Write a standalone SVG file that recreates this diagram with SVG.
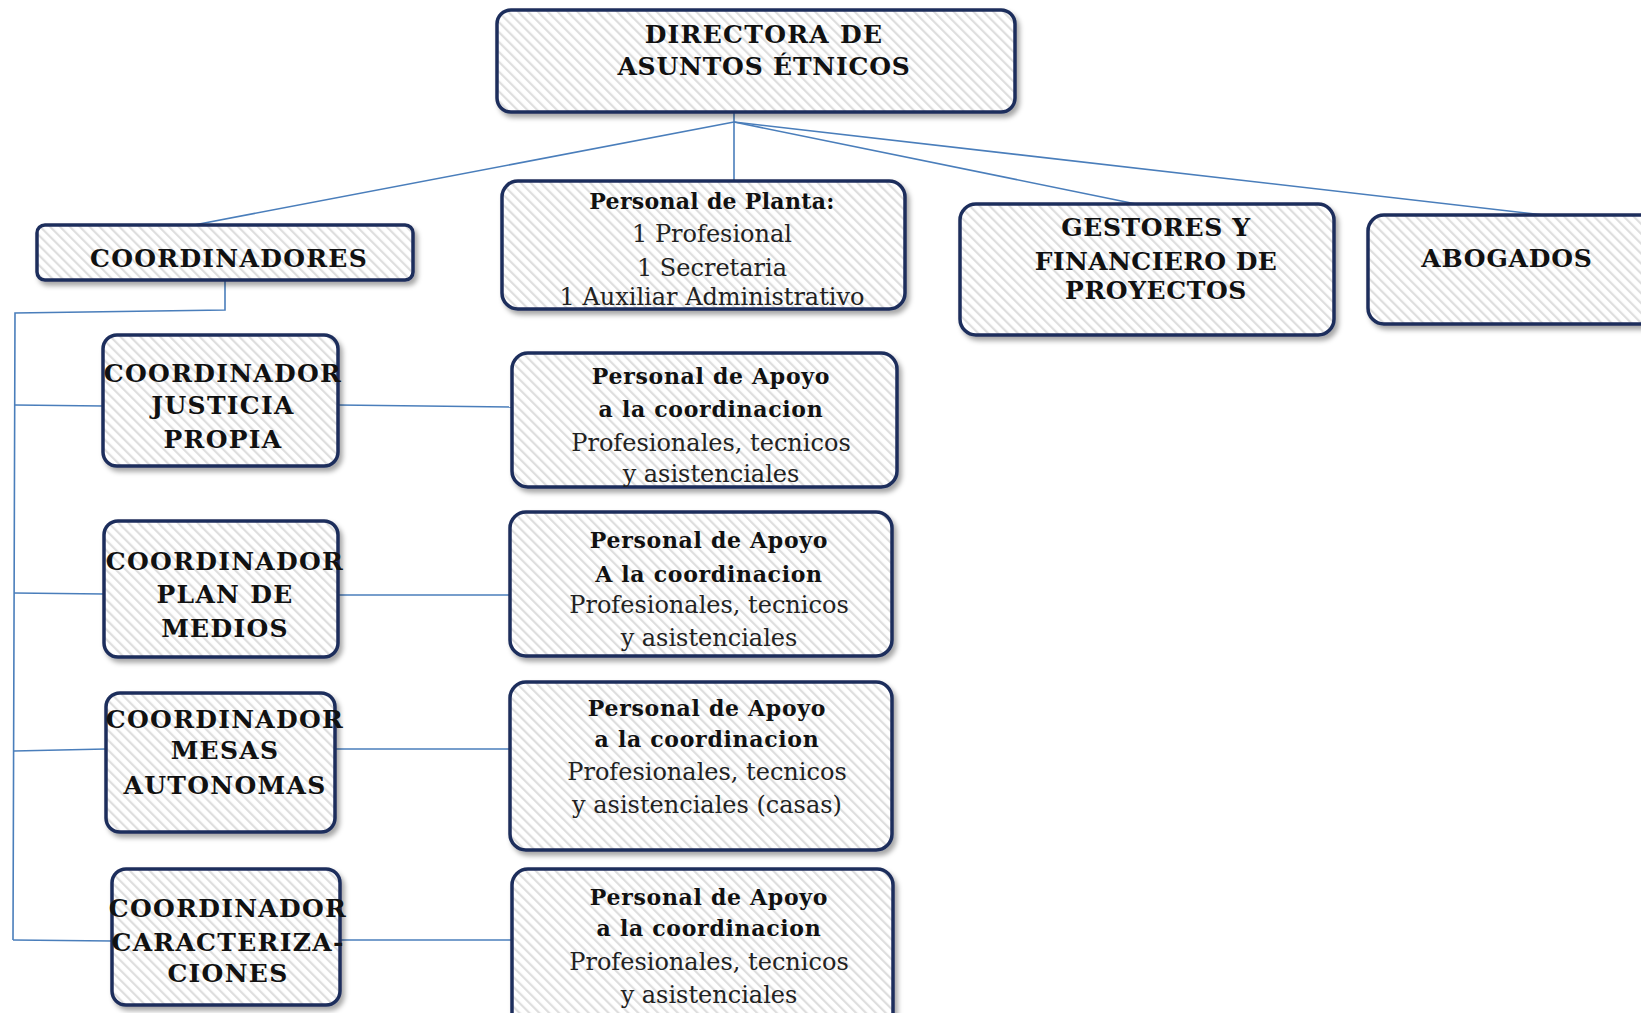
<svg xmlns="http://www.w3.org/2000/svg" width="1641" height="1013" viewBox="0 0 1641 1013">
<defs>
  <pattern id="stripes" patternUnits="userSpaceOnUse" width="7" height="7" patternTransform="rotate(-45)">
    <rect width="7" height="7" fill="#ffffff"/>
    <rect width="2.2" height="7" fill="#dedede"/>
  </pattern>
  <filter id="shadow" x="-10%" y="-10%" width="125%" height="130%">
    <feDropShadow dx="3" dy="4" stdDeviation="2.5" flood-color="#000" flood-opacity="0.35"/>
  </filter>
</defs>
<style>
  .box { fill: url(#stripes); stroke: #1f2d5c; stroke-width: 3.5; filter: url(#shadow); }
  .cap { font-family: "DejaVu Serif", "Liberation Serif", serif; font-weight: bold; font-size: 25px; letter-spacing: 1.3px; fill: #111; text-anchor: middle; }
  .bold { font-family: "DejaVu Serif", "Liberation Serif", serif; font-weight: bold; font-size: 22px; letter-spacing: 0.7px; fill: #111; text-anchor: middle; }
  .reg { font-family: "DejaVu Serif", "Liberation Serif", serif; font-size: 24px; fill: #222; text-anchor: middle; }
  .conn { fill: none; stroke: #4a7ebb; stroke-width: 1.6; }
</style>

<g id="connectors">
  <line class="conn" x1="734" y1="112" x2="734" y2="181"/>
  <line class="conn" x1="734" y1="122" x2="194" y2="225"/>
  <line class="conn" x1="734" y1="122" x2="1136" y2="204"/>
  <line class="conn" x1="734" y1="122" x2="1544" y2="215"/>
  <polyline class="conn" points="225,280 225,310 15,313 13,940"/>
  <line class="conn" x1="15" y1="405" x2="103" y2="406"/>
  <line class="conn" x1="14" y1="593" x2="104" y2="594"/>
  <line class="conn" x1="14" y1="751" x2="106" y2="749"/>
  <line class="conn" x1="13" y1="940" x2="112" y2="941"/>
  <line class="conn" x1="338" y1="405" x2="512" y2="407"/>
  <line class="conn" x1="338" y1="595" x2="510" y2="595"/>
  <line class="conn" x1="335" y1="749" x2="510" y2="749"/>
  <line class="conn" x1="340" y1="940" x2="512" y2="940"/>
</g>

<g id="director">
  <rect class="box" x="497" y="10" width="518" height="102" rx="14"/>
  <text class="cap" x="764" y="43">DIRECTORA DE</text>
  <text class="cap" x="764" y="75" style="letter-spacing:0.8px">ASUNTOS ÉTNICOS</text>
</g>

<g id="coordinadores">
  <rect class="box" x="37" y="225" width="376" height="55" rx="8"/>
  <text class="cap" x="229" y="267">COORDINADORES</text>
</g>

<g id="personal-planta">
  <rect class="box" x="502" y="181" width="403" height="128" rx="16"/>
  <text class="bold" x="712" y="209" style="letter-spacing:0.3px">Personal de Planta:</text>
  <text class="reg" x="712" y="242">1 Profesional</text>
  <text class="reg" x="712" y="276">1 Secretaria</text>
  <text class="reg" x="712" y="305">1 Auxiliar Administrativo</text>
</g>

<g id="gestores">
  <rect class="box" x="960" y="204" width="374" height="131" rx="16"/>
  <text class="cap" x="1156" y="236" style="letter-spacing:0.6px">GESTORES Y</text>
  <text class="cap" x="1156" y="270" style="letter-spacing:0.4px">FINANCIERO DE</text>
  <text class="cap" x="1156" y="299" style="letter-spacing:0.6px">PROYECTOS</text>
</g>

<g id="abogados">
  <rect class="box" x="1368" y="215" width="290" height="109" rx="16"/>
  <text class="cap" x="1507" y="267" style="letter-spacing:0.8px">ABOGADOS</text>
</g>

<g id="coord-justicia">
  <rect class="box" x="103" y="335" width="235" height="131" rx="14"/>
  <text class="cap" x="223" y="382">COORDINADOR</text>
  <text class="cap" x="223" y="414">JUSTICIA</text>
  <text class="cap" x="223" y="448">PROPIA</text>
</g>

<g id="coord-plan">
  <rect class="box" x="104" y="521" width="234" height="136" rx="14"/>
  <text class="cap" x="225" y="570">COORDINADOR</text>
  <text class="cap" x="225" y="603">PLAN DE</text>
  <text class="cap" x="225" y="637">MEDIOS</text>
</g>

<g id="coord-mesas">
  <rect class="box" x="106" y="693" width="229" height="139" rx="14"/>
  <text class="cap" x="225" y="728">COORDINADOR</text>
  <text class="cap" x="225" y="759">MESAS</text>
  <text class="cap" x="225" y="794">AUTONOMAS</text>
</g>

<g id="coord-caract">
  <rect class="box" x="112" y="869" width="228" height="136" rx="14"/>
  <text class="cap" x="228" y="917">COORDINADOR</text>
  <text class="cap" x="228" y="951">CARACTERIZA-</text>
  <text class="cap" x="228" y="982">CIONES</text>
</g>

<g id="apoyo-justicia">
  <rect class="box" x="512" y="353" width="385" height="134" rx="16"/>
  <text class="bold" x="711" y="384">Personal de Apoyo</text>
  <text class="bold" x="711" y="417">a la coordinacion</text>
  <text class="reg" x="711" y="451">Profesionales, tecnicos</text>
  <text class="reg" x="711" y="482">y asistenciales</text>
</g>

<g id="apoyo-plan">
  <rect class="box" x="510" y="512" width="382" height="144" rx="16"/>
  <text class="bold" x="709" y="548">Personal de Apoyo</text>
  <text class="bold" x="709" y="582">A la coordinacion</text>
  <text class="reg" x="709" y="613">Profesionales, tecnicos</text>
  <text class="reg" x="709" y="646">y asistenciales</text>
</g>

<g id="apoyo-mesas">
  <rect class="box" x="510" y="682" width="382" height="168" rx="16"/>
  <text class="bold" x="707" y="716">Personal de Apoyo</text>
  <text class="bold" x="707" y="747">a la coordinacion</text>
  <text class="reg" x="707" y="780">Profesionales, tecnicos</text>
  <text class="reg" x="707" y="813">y asistenciales (casas)</text>
</g>

<g id="apoyo-caract">
  <rect class="box" x="512" y="869" width="381" height="160" rx="16"/>
  <text class="bold" x="709" y="905">Personal de Apoyo</text>
  <text class="bold" x="709" y="936">a la coordinacion</text>
  <text class="reg" x="709" y="970">Profesionales, tecnicos</text>
  <text class="reg" x="709" y="1003">y asistenciales</text>
</g>
</svg>
